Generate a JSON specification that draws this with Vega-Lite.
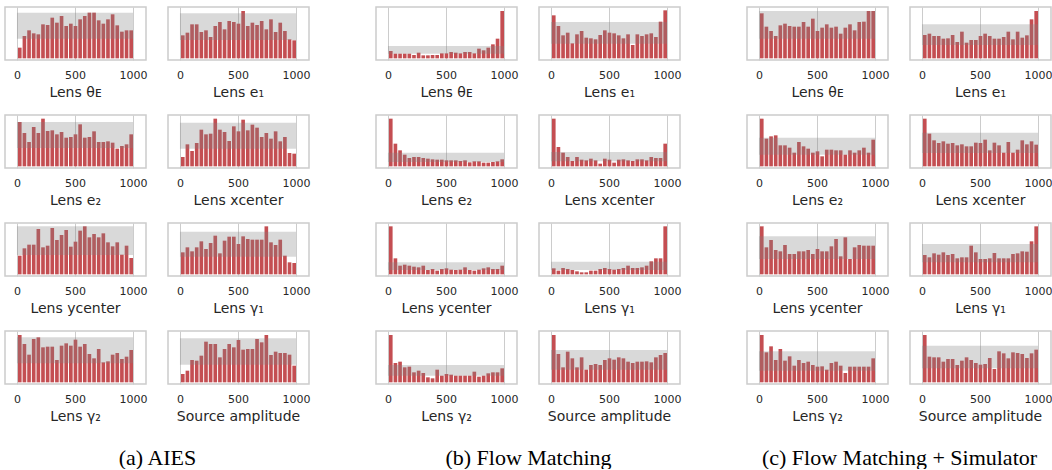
{
"$schema":"https://vega.github.io/schema/vega-lite/v6.json",
"padding":{"left":4,"top":6,"right":0,"bottom":0},
"background":"white",
"config":{"font":"DejaVu Sans","view":{"stroke":"#cccccc","strokeWidth":1.5},"concat":{"spacing":64}},
"datasets":{"bars":[
{"m":"a","p":1,"r":0,"c":32},{"m":"a","p":1,"r":40,"c":67},{"m":"a","p":1,"r":80,"c":84},{"m":"a","p":1,"r":120,"c":75},{"m":"a","p":1,"r":160,"c":72},{"m":"a","p":1,"r":200,"c":102},{"m":"a","p":1,"r":240,"c":100},{"m":"a","p":1,"r":280,"c":122},{"m":"a","p":1,"r":320,"c":107},{"m":"a","p":1,"r":360,"c":127},{"m":"a","p":1,"r":400,"c":97},{"m":"a","p":1,"r":440,"c":104},{"m":"a","p":1,"r":480,"c":97},{"m":"a","p":1,"r":520,"c":117},{"m":"a","p":1,"r":560,"c":127},{"m":"a","p":1,"r":600,"c":137},{"m":"a","p":1,"r":640,"c":137},{"m":"a","p":1,"r":680,"c":114},{"m":"a","p":1,"r":720,"c":104},{"m":"a","p":1,"r":760,"c":117},{"m":"a","p":1,"r":800,"c":132},{"m":"a","p":1,"r":840,"c":99},{"m":"a","p":1,"r":880,"c":80},{"m":"a","p":1,"r":920,"c":84},{"m":"a","p":1,"r":960,"c":84},
{"m":"a","p":2,"r":0,"c":69},{"m":"a","p":2,"r":40,"c":77},{"m":"a","p":2,"r":80,"c":102},{"m":"a","p":2,"r":120,"c":102},{"m":"a","p":2,"r":160,"c":79},{"m":"a","p":2,"r":200,"c":84},{"m":"a","p":2,"r":240,"c":64},{"m":"a","p":2,"r":280,"c":97},{"m":"a","p":2,"r":320,"c":109},{"m":"a","p":2,"r":360,"c":87},{"m":"a","p":2,"r":400,"c":112},{"m":"a","p":2,"r":440,"c":109},{"m":"a","p":2,"r":480,"c":104},{"m":"a","p":2,"r":520,"c":142},{"m":"a","p":2,"r":560,"c":97},{"m":"a","p":2,"r":600,"c":107},{"m":"a","p":2,"r":640,"c":100},{"m":"a","p":2,"r":680,"c":112},{"m":"a","p":2,"r":720,"c":87},{"m":"a","p":2,"r":760,"c":117},{"m":"a","p":2,"r":800,"c":79},{"m":"a","p":2,"r":840,"c":107},{"m":"a","p":2,"r":880,"c":82},{"m":"a","p":2,"r":920,"c":57},{"m":"a","p":2,"r":960,"c":54},
{"m":"a","p":3,"r":0,"c":133},{"m":"a","p":3,"r":40,"c":100},{"m":"a","p":3,"r":80,"c":73},{"m":"a","p":3,"r":120,"c":118},{"m":"a","p":3,"r":160,"c":100},{"m":"a","p":3,"r":200,"c":143},{"m":"a","p":3,"r":240,"c":106},{"m":"a","p":3,"r":280,"c":108},{"m":"a","p":3,"r":320,"c":96},{"m":"a","p":3,"r":360,"c":103},{"m":"a","p":3,"r":400,"c":86},{"m":"a","p":3,"r":440,"c":88},{"m":"a","p":3,"r":480,"c":96},{"m":"a","p":3,"r":520,"c":126},{"m":"a","p":3,"r":560,"c":86},{"m":"a","p":3,"r":600,"c":88},{"m":"a","p":3,"r":640,"c":105},{"m":"a","p":3,"r":680,"c":73},{"m":"a","p":3,"r":720,"c":73},{"m":"a","p":3,"r":760,"c":75},{"m":"a","p":3,"r":800,"c":71},{"m":"a","p":3,"r":840,"c":53},{"m":"a","p":3,"r":880,"c":61},{"m":"a","p":3,"r":920,"c":66},{"m":"a","p":3,"r":960,"c":96},
{"m":"a","p":4,"r":0,"c":28},{"m":"a","p":4,"r":40,"c":66},{"m":"a","p":4,"r":80,"c":46},{"m":"a","p":4,"r":120,"c":70},{"m":"a","p":4,"r":160,"c":110},{"m":"a","p":4,"r":200,"c":96},{"m":"a","p":4,"r":240,"c":98},{"m":"a","p":4,"r":280,"c":143},{"m":"a","p":4,"r":320,"c":110},{"m":"a","p":4,"r":360,"c":103},{"m":"a","p":4,"r":400,"c":76},{"m":"a","p":4,"r":440,"c":120},{"m":"a","p":4,"r":480,"c":105},{"m":"a","p":4,"r":520,"c":140},{"m":"a","p":4,"r":560,"c":108},{"m":"a","p":4,"r":600,"c":125},{"m":"a","p":4,"r":640,"c":116},{"m":"a","p":4,"r":680,"c":88},{"m":"a","p":4,"r":720,"c":100},{"m":"a","p":4,"r":760,"c":83},{"m":"a","p":4,"r":800,"c":105},{"m":"a","p":4,"r":840,"c":75},{"m":"a","p":4,"r":880,"c":88},{"m":"a","p":4,"r":920,"c":40},{"m":"a","p":4,"r":960,"c":38},
{"m":"a","p":5,"r":0,"c":56},{"m":"a","p":5,"r":40,"c":78},{"m":"a","p":5,"r":80,"c":89},{"m":"a","p":5,"r":120,"c":89},{"m":"a","p":5,"r":160,"c":136},{"m":"a","p":5,"r":200,"c":81},{"m":"a","p":5,"r":240,"c":86},{"m":"a","p":5,"r":280,"c":139},{"m":"a","p":5,"r":320,"c":103},{"m":"a","p":5,"r":360,"c":118},{"m":"a","p":5,"r":400,"c":133},{"m":"a","p":5,"r":440,"c":83},{"m":"a","p":5,"r":480,"c":98},{"m":"a","p":5,"r":520,"c":131},{"m":"a","p":5,"r":560,"c":144},{"m":"a","p":5,"r":600,"c":111},{"m":"a","p":5,"r":640,"c":121},{"m":"a","p":5,"r":680,"c":111},{"m":"a","p":5,"r":720,"c":123},{"m":"a","p":5,"r":760,"c":96},{"m":"a","p":5,"r":800,"c":84},{"m":"a","p":5,"r":840,"c":96},{"m":"a","p":5,"r":880,"c":59},{"m":"a","p":5,"r":920,"c":86},{"m":"a","p":5,"r":960,"c":49},
{"m":"a","p":6,"r":0,"c":66},{"m":"a","p":6,"r":40,"c":81},{"m":"a","p":6,"r":80,"c":69},{"m":"a","p":6,"r":120,"c":81},{"m":"a","p":6,"r":160,"c":99},{"m":"a","p":6,"r":200,"c":76},{"m":"a","p":6,"r":240,"c":94},{"m":"a","p":6,"r":280,"c":116},{"m":"a","p":6,"r":320,"c":63},{"m":"a","p":6,"r":360,"c":101},{"m":"a","p":6,"r":400,"c":113},{"m":"a","p":6,"r":440,"c":113},{"m":"a","p":6,"r":480,"c":91},{"m":"a","p":6,"r":520,"c":114},{"m":"a","p":6,"r":560,"c":106},{"m":"a","p":6,"r":600,"c":104},{"m":"a","p":6,"r":640,"c":104},{"m":"a","p":6,"r":680,"c":104},{"m":"a","p":6,"r":720,"c":144},{"m":"a","p":6,"r":760,"c":96},{"m":"a","p":6,"r":800,"c":88},{"m":"a","p":6,"r":840,"c":104},{"m":"a","p":6,"r":880,"c":56},{"m":"a","p":6,"r":920,"c":36},{"m":"a","p":6,"r":960,"c":34},
{"m":"a","p":7,"r":0,"c":142},{"m":"a","p":7,"r":40,"c":115},{"m":"a","p":7,"r":80,"c":83},{"m":"a","p":7,"r":120,"c":130},{"m":"a","p":7,"r":160,"c":135},{"m":"a","p":7,"r":200,"c":105},{"m":"a","p":7,"r":240,"c":107},{"m":"a","p":7,"r":280,"c":107},{"m":"a","p":7,"r":320,"c":67},{"m":"a","p":7,"r":360,"c":110},{"m":"a","p":7,"r":400,"c":117},{"m":"a","p":7,"r":440,"c":110},{"m":"a","p":7,"r":480,"c":128},{"m":"a","p":7,"r":520,"c":107},{"m":"a","p":7,"r":560,"c":115},{"m":"a","p":7,"r":600,"c":85},{"m":"a","p":7,"r":640,"c":72},{"m":"a","p":7,"r":680,"c":100},{"m":"a","p":7,"r":720,"c":60},{"m":"a","p":7,"r":760,"c":63},{"m":"a","p":7,"r":800,"c":83},{"m":"a","p":7,"r":840,"c":88},{"m":"a","p":7,"r":880,"c":70},{"m":"a","p":7,"r":920,"c":77},{"m":"a","p":7,"r":960,"c":97},
{"m":"a","p":8,"r":0,"c":25},{"m":"a","p":8,"r":40,"c":35},{"m":"a","p":8,"r":80,"c":67},{"m":"a","p":8,"r":120,"c":65},{"m":"a","p":8,"r":160,"c":80},{"m":"a","p":8,"r":200,"c":122},{"m":"a","p":8,"r":240,"c":115},{"m":"a","p":8,"r":280,"c":115},{"m":"a","p":8,"r":320,"c":75},{"m":"a","p":8,"r":360,"c":100},{"m":"a","p":8,"r":400,"c":115},{"m":"a","p":8,"r":440,"c":105},{"m":"a","p":8,"r":480,"c":127},{"m":"a","p":8,"r":520,"c":98},{"m":"a","p":8,"r":560,"c":100},{"m":"a","p":8,"r":600,"c":100},{"m":"a","p":8,"r":640,"c":130},{"m":"a","p":8,"r":680,"c":120},{"m":"a","p":8,"r":720,"c":142},{"m":"a","p":8,"r":760,"c":82},{"m":"a","p":8,"r":800,"c":92},{"m":"a","p":8,"r":840,"c":88},{"m":"a","p":8,"r":880,"c":88},{"m":"a","p":8,"r":920,"c":83},{"m":"a","p":8,"r":960,"c":50},
{"m":"b","p":1,"r":0,"c":22},{"m":"b","p":1,"r":40,"c":14},{"m":"b","p":1,"r":80,"c":14},{"m":"b","p":1,"r":120,"c":14},{"m":"b","p":1,"r":160,"c":14},{"m":"b","p":1,"r":200,"c":10},{"m":"b","p":1,"r":240,"c":17},{"m":"b","p":1,"r":280,"c":9},{"m":"b","p":1,"r":320,"c":9},{"m":"b","p":1,"r":360,"c":10},{"m":"b","p":1,"r":400,"c":10},{"m":"b","p":1,"r":440,"c":15},{"m":"b","p":1,"r":480,"c":15},{"m":"b","p":1,"r":520,"c":19},{"m":"b","p":1,"r":560,"c":17},{"m":"b","p":1,"r":600,"c":15},{"m":"b","p":1,"r":640,"c":19},{"m":"b","p":1,"r":680,"c":19},{"m":"b","p":1,"r":720,"c":15},{"m":"b","p":1,"r":760,"c":29},{"m":"b","p":1,"r":800,"c":24},{"m":"b","p":1,"r":840,"c":32},{"m":"b","p":1,"r":880,"c":42},{"m":"b","p":1,"r":920,"c":59},{"m":"b","p":1,"r":960,"c":142},
{"m":"b","p":2,"r":0,"c":129},{"m":"b","p":2,"r":40,"c":97},{"m":"b","p":2,"r":80,"c":69},{"m":"b","p":2,"r":120,"c":77},{"m":"b","p":2,"r":160,"c":45},{"m":"b","p":2,"r":200,"c":72},{"m":"b","p":2,"r":240,"c":82},{"m":"b","p":2,"r":280,"c":62},{"m":"b","p":2,"r":320,"c":60},{"m":"b","p":2,"r":360,"c":57},{"m":"b","p":2,"r":400,"c":70},{"m":"b","p":2,"r":440,"c":84},{"m":"b","p":2,"r":480,"c":77},{"m":"b","p":2,"r":520,"c":75},{"m":"b","p":2,"r":560,"c":69},{"m":"b","p":2,"r":600,"c":60},{"m":"b","p":2,"r":640,"c":72},{"m":"b","p":2,"r":680,"c":40},{"m":"b","p":2,"r":720,"c":72},{"m":"b","p":2,"r":760,"c":67},{"m":"b","p":2,"r":800,"c":72},{"m":"b","p":2,"r":840,"c":75},{"m":"b","p":2,"r":880,"c":64},{"m":"b","p":2,"r":920,"c":110},{"m":"b","p":2,"r":960,"c":144},
{"m":"b","p":3,"r":0,"c":143},{"m":"b","p":3,"r":40,"c":68},{"m":"b","p":3,"r":80,"c":48},{"m":"b","p":3,"r":120,"c":35},{"m":"b","p":3,"r":160,"c":25},{"m":"b","p":3,"r":200,"c":28},{"m":"b","p":3,"r":240,"c":28},{"m":"b","p":3,"r":280,"c":25},{"m":"b","p":3,"r":320,"c":23},{"m":"b","p":3,"r":360,"c":21},{"m":"b","p":3,"r":400,"c":20},{"m":"b","p":3,"r":440,"c":20},{"m":"b","p":3,"r":480,"c":18},{"m":"b","p":3,"r":520,"c":18},{"m":"b","p":3,"r":560,"c":18},{"m":"b","p":3,"r":600,"c":16},{"m":"b","p":3,"r":640,"c":18},{"m":"b","p":3,"r":680,"c":12},{"m":"b","p":3,"r":720,"c":15},{"m":"b","p":3,"r":760,"c":15},{"m":"b","p":3,"r":800,"c":11},{"m":"b","p":3,"r":840,"c":11},{"m":"b","p":3,"r":880,"c":13},{"m":"b","p":3,"r":920,"c":15},{"m":"b","p":3,"r":960,"c":21},
{"m":"b","p":4,"r":0,"c":143},{"m":"b","p":4,"r":40,"c":58},{"m":"b","p":4,"r":80,"c":41},{"m":"b","p":4,"r":120,"c":28},{"m":"b","p":4,"r":160,"c":16},{"m":"b","p":4,"r":200,"c":28},{"m":"b","p":4,"r":240,"c":20},{"m":"b","p":4,"r":280,"c":18},{"m":"b","p":4,"r":320,"c":23},{"m":"b","p":4,"r":360,"c":18},{"m":"b","p":4,"r":400,"c":8},{"m":"b","p":4,"r":440,"c":23},{"m":"b","p":4,"r":480,"c":20},{"m":"b","p":4,"r":520,"c":11},{"m":"b","p":4,"r":560,"c":20},{"m":"b","p":4,"r":600,"c":21},{"m":"b","p":4,"r":640,"c":18},{"m":"b","p":4,"r":680,"c":16},{"m":"b","p":4,"r":720,"c":21},{"m":"b","p":4,"r":760,"c":21},{"m":"b","p":4,"r":800,"c":18},{"m":"b","p":4,"r":840,"c":28},{"m":"b","p":4,"r":880,"c":25},{"m":"b","p":4,"r":920,"c":25},{"m":"b","p":4,"r":960,"c":68},
{"m":"b","p":5,"r":0,"c":144},{"m":"b","p":5,"r":40,"c":48},{"m":"b","p":5,"r":80,"c":26},{"m":"b","p":5,"r":120,"c":29},{"m":"b","p":5,"r":160,"c":26},{"m":"b","p":5,"r":200,"c":23},{"m":"b","p":5,"r":240,"c":21},{"m":"b","p":5,"r":280,"c":26},{"m":"b","p":5,"r":320,"c":13},{"m":"b","p":5,"r":360,"c":16},{"m":"b","p":5,"r":400,"c":11},{"m":"b","p":5,"r":440,"c":16},{"m":"b","p":5,"r":480,"c":18},{"m":"b","p":5,"r":520,"c":14},{"m":"b","p":5,"r":560,"c":13},{"m":"b","p":5,"r":600,"c":14},{"m":"b","p":5,"r":640,"c":21},{"m":"b","p":5,"r":680,"c":13},{"m":"b","p":5,"r":720,"c":11},{"m":"b","p":5,"r":760,"c":14},{"m":"b","p":5,"r":800,"c":18},{"m":"b","p":5,"r":840,"c":21},{"m":"b","p":5,"r":880,"c":16},{"m":"b","p":5,"r":920,"c":16},{"m":"b","p":5,"r":960,"c":26},
{"m":"b","p":6,"r":0,"c":18},{"m":"b","p":6,"r":40,"c":11},{"m":"b","p":6,"r":80,"c":19},{"m":"b","p":6,"r":120,"c":16},{"m":"b","p":6,"r":160,"c":13},{"m":"b","p":6,"r":200,"c":9},{"m":"b","p":6,"r":240,"c":6},{"m":"b","p":6,"r":280,"c":6},{"m":"b","p":6,"r":320,"c":11},{"m":"b","p":6,"r":360,"c":11},{"m":"b","p":6,"r":400,"c":16},{"m":"b","p":6,"r":440,"c":19},{"m":"b","p":6,"r":480,"c":16},{"m":"b","p":6,"r":520,"c":14},{"m":"b","p":6,"r":560,"c":16},{"m":"b","p":6,"r":600,"c":19},{"m":"b","p":6,"r":640,"c":26},{"m":"b","p":6,"r":680,"c":19},{"m":"b","p":6,"r":720,"c":19},{"m":"b","p":6,"r":760,"c":21},{"m":"b","p":6,"r":800,"c":26},{"m":"b","p":6,"r":840,"c":39},{"m":"b","p":6,"r":880,"c":48},{"m":"b","p":6,"r":920,"c":48},{"m":"b","p":6,"r":960,"c":144},
{"m":"b","p":7,"r":0,"c":142},{"m":"b","p":7,"r":40,"c":58},{"m":"b","p":7,"r":80,"c":62},{"m":"b","p":7,"r":120,"c":45},{"m":"b","p":7,"r":160,"c":47},{"m":"b","p":7,"r":200,"c":30},{"m":"b","p":7,"r":240,"c":35},{"m":"b","p":7,"r":280,"c":28},{"m":"b","p":7,"r":320,"c":15},{"m":"b","p":7,"r":360,"c":12},{"m":"b","p":7,"r":400,"c":38},{"m":"b","p":7,"r":440,"c":20},{"m":"b","p":7,"r":480,"c":25},{"m":"b","p":7,"r":520,"c":23},{"m":"b","p":7,"r":560,"c":20},{"m":"b","p":7,"r":600,"c":20},{"m":"b","p":7,"r":640,"c":20},{"m":"b","p":7,"r":680,"c":20},{"m":"b","p":7,"r":720,"c":32},{"m":"b","p":7,"r":760,"c":17},{"m":"b","p":7,"r":800,"c":20},{"m":"b","p":7,"r":840,"c":27},{"m":"b","p":7,"r":880,"c":30},{"m":"b","p":7,"r":920,"c":30},{"m":"b","p":7,"r":960,"c":42},
{"m":"b","p":8,"r":0,"c":142},{"m":"b","p":8,"r":40,"c":85},{"m":"b","p":8,"r":80,"c":45},{"m":"b","p":8,"r":120,"c":92},{"m":"b","p":8,"r":160,"c":72},{"m":"b","p":8,"r":200,"c":45},{"m":"b","p":8,"r":240,"c":75},{"m":"b","p":8,"r":280,"c":38},{"m":"b","p":8,"r":320,"c":52},{"m":"b","p":8,"r":360,"c":55},{"m":"b","p":8,"r":400,"c":52},{"m":"b","p":8,"r":440,"c":67},{"m":"b","p":8,"r":480,"c":72},{"m":"b","p":8,"r":520,"c":68},{"m":"b","p":8,"r":560,"c":75},{"m":"b","p":8,"r":600,"c":72},{"m":"b","p":8,"r":640,"c":62},{"m":"b","p":8,"r":680,"c":58},{"m":"b","p":8,"r":720,"c":62},{"m":"b","p":8,"r":760,"c":62},{"m":"b","p":8,"r":800,"c":63},{"m":"b","p":8,"r":840,"c":60},{"m":"b","p":8,"r":880,"c":75},{"m":"b","p":8,"r":920,"c":82},{"m":"b","p":8,"r":960,"c":88},
{"m":"c","p":1,"r":0,"c":135},{"m":"c","p":1,"r":40,"c":95},{"m":"c","p":1,"r":80,"c":82},{"m":"c","p":1,"r":120,"c":67},{"m":"c","p":1,"r":160,"c":99},{"m":"c","p":1,"r":200,"c":104},{"m":"c","p":1,"r":240,"c":97},{"m":"c","p":1,"r":280,"c":95},{"m":"c","p":1,"r":320,"c":95},{"m":"c","p":1,"r":360,"c":109},{"m":"c","p":1,"r":400,"c":95},{"m":"c","p":1,"r":440,"c":119},{"m":"c","p":1,"r":480,"c":82},{"m":"c","p":1,"r":520,"c":92},{"m":"c","p":1,"r":560,"c":102},{"m":"c","p":1,"r":600,"c":92},{"m":"c","p":1,"r":640,"c":95},{"m":"c","p":1,"r":680,"c":74},{"m":"c","p":1,"r":720,"c":92},{"m":"c","p":1,"r":760,"c":102},{"m":"c","p":1,"r":800,"c":84},{"m":"c","p":1,"r":840,"c":109},{"m":"c","p":1,"r":880,"c":110},{"m":"c","p":1,"r":920,"c":142},{"m":"c","p":1,"r":960,"c":142},
{"m":"c","p":2,"r":0,"c":70},{"m":"c","p":2,"r":40,"c":74},{"m":"c","p":2,"r":80,"c":67},{"m":"c","p":2,"r":120,"c":67},{"m":"c","p":2,"r":160,"c":59},{"m":"c","p":2,"r":200,"c":60},{"m":"c","p":2,"r":240,"c":70},{"m":"c","p":2,"r":280,"c":49},{"m":"c","p":2,"r":320,"c":80},{"m":"c","p":2,"r":360,"c":47},{"m":"c","p":2,"r":400,"c":55},{"m":"c","p":2,"r":440,"c":55},{"m":"c","p":2,"r":480,"c":67},{"m":"c","p":2,"r":520,"c":74},{"m":"c","p":2,"r":560,"c":67},{"m":"c","p":2,"r":600,"c":59},{"m":"c","p":2,"r":640,"c":59},{"m":"c","p":2,"r":680,"c":64},{"m":"c","p":2,"r":720,"c":80},{"m":"c","p":2,"r":760,"c":57},{"m":"c","p":2,"r":800,"c":80},{"m":"c","p":2,"r":840,"c":62},{"m":"c","p":2,"r":880,"c":69},{"m":"c","p":2,"r":920,"c":117},{"m":"c","p":2,"r":960,"c":142},
{"m":"c","p":3,"r":0,"c":143},{"m":"c","p":3,"r":40,"c":83},{"m":"c","p":3,"r":80,"c":90},{"m":"c","p":3,"r":120,"c":93},{"m":"c","p":3,"r":160,"c":63},{"m":"c","p":3,"r":200,"c":63},{"m":"c","p":3,"r":240,"c":56},{"m":"c","p":3,"r":280,"c":41},{"m":"c","p":3,"r":320,"c":73},{"m":"c","p":3,"r":360,"c":60},{"m":"c","p":3,"r":400,"c":53},{"m":"c","p":3,"r":440,"c":41},{"m":"c","p":3,"r":480,"c":45},{"m":"c","p":3,"r":520,"c":30},{"m":"c","p":3,"r":560,"c":50},{"m":"c","p":3,"r":600,"c":50},{"m":"c","p":3,"r":640,"c":48},{"m":"c","p":3,"r":680,"c":48},{"m":"c","p":3,"r":720,"c":35},{"m":"c","p":3,"r":760,"c":48},{"m":"c","p":3,"r":800,"c":41},{"m":"c","p":3,"r":840,"c":48},{"m":"c","p":3,"r":880,"c":56},{"m":"c","p":3,"r":920,"c":41},{"m":"c","p":3,"r":960,"c":80},
{"m":"c","p":4,"r":0,"c":143},{"m":"c","p":4,"r":40,"c":98},{"m":"c","p":4,"r":80,"c":78},{"m":"c","p":4,"r":120,"c":70},{"m":"c","p":4,"r":160,"c":75},{"m":"c","p":4,"r":200,"c":68},{"m":"c","p":4,"r":240,"c":70},{"m":"c","p":4,"r":280,"c":63},{"m":"c","p":4,"r":320,"c":66},{"m":"c","p":4,"r":360,"c":60},{"m":"c","p":4,"r":400,"c":60},{"m":"c","p":4,"r":440,"c":71},{"m":"c","p":4,"r":480,"c":70},{"m":"c","p":4,"r":520,"c":80},{"m":"c","p":4,"r":560,"c":48},{"m":"c","p":4,"r":600,"c":71},{"m":"c","p":4,"r":640,"c":63},{"m":"c","p":4,"r":680,"c":41},{"m":"c","p":4,"r":720,"c":73},{"m":"c","p":4,"r":760,"c":41},{"m":"c","p":4,"r":800,"c":50},{"m":"c","p":4,"r":840,"c":78},{"m":"c","p":4,"r":880,"c":66},{"m":"c","p":4,"r":920,"c":75},{"m":"c","p":4,"r":960,"c":65},
{"m":"c","p":5,"r":0,"c":144},{"m":"c","p":5,"r":40,"c":81},{"m":"c","p":5,"r":80,"c":103},{"m":"c","p":5,"r":120,"c":73},{"m":"c","p":5,"r":160,"c":69},{"m":"c","p":5,"r":200,"c":88},{"m":"c","p":5,"r":240,"c":61},{"m":"c","p":5,"r":280,"c":61},{"m":"c","p":5,"r":320,"c":69},{"m":"c","p":5,"r":360,"c":69},{"m":"c","p":5,"r":400,"c":73},{"m":"c","p":5,"r":440,"c":61},{"m":"c","p":5,"r":480,"c":76},{"m":"c","p":5,"r":520,"c":69},{"m":"c","p":5,"r":560,"c":69},{"m":"c","p":5,"r":600,"c":84},{"m":"c","p":5,"r":640,"c":106},{"m":"c","p":5,"r":680,"c":54},{"m":"c","p":5,"r":720,"c":111},{"m":"c","p":5,"r":760,"c":46},{"m":"c","p":5,"r":800,"c":81},{"m":"c","p":5,"r":840,"c":88},{"m":"c","p":5,"r":880,"c":86},{"m":"c","p":5,"r":920,"c":86},{"m":"c","p":5,"r":960,"c":86},
{"m":"c","p":6,"r":0,"c":58},{"m":"c","p":6,"r":40,"c":51},{"m":"c","p":6,"r":80,"c":63},{"m":"c","p":6,"r":120,"c":59},{"m":"c","p":6,"r":160,"c":66},{"m":"c","p":6,"r":200,"c":58},{"m":"c","p":6,"r":240,"c":61},{"m":"c","p":6,"r":280,"c":48},{"m":"c","p":6,"r":320,"c":51},{"m":"c","p":6,"r":360,"c":51},{"m":"c","p":6,"r":400,"c":86},{"m":"c","p":6,"r":440,"c":66},{"m":"c","p":6,"r":480,"c":46},{"m":"c","p":6,"r":520,"c":46},{"m":"c","p":6,"r":560,"c":48},{"m":"c","p":6,"r":600,"c":64},{"m":"c","p":6,"r":640,"c":48},{"m":"c","p":6,"r":680,"c":48},{"m":"c","p":6,"r":720,"c":48},{"m":"c","p":6,"r":760,"c":61},{"m":"c","p":6,"r":800,"c":63},{"m":"c","p":6,"r":840,"c":69},{"m":"c","p":6,"r":880,"c":68},{"m":"c","p":6,"r":920,"c":99},{"m":"c","p":6,"r":960,"c":144},
{"m":"c","p":7,"r":0,"c":142},{"m":"c","p":7,"r":40,"c":90},{"m":"c","p":7,"r":80,"c":108},{"m":"c","p":7,"r":120,"c":67},{"m":"c","p":7,"r":160,"c":100},{"m":"c","p":7,"r":200,"c":65},{"m":"c","p":7,"r":240,"c":78},{"m":"c","p":7,"r":280,"c":50},{"m":"c","p":7,"r":320,"c":67},{"m":"c","p":7,"r":360,"c":58},{"m":"c","p":7,"r":400,"c":62},{"m":"c","p":7,"r":440,"c":52},{"m":"c","p":7,"r":480,"c":47},{"m":"c","p":7,"r":520,"c":48},{"m":"c","p":7,"r":560,"c":38},{"m":"c","p":7,"r":600,"c":58},{"m":"c","p":7,"r":640,"c":62},{"m":"c","p":7,"r":680,"c":50},{"m":"c","p":7,"r":720,"c":28},{"m":"c","p":7,"r":760,"c":47},{"m":"c","p":7,"r":800,"c":47},{"m":"c","p":7,"r":840,"c":47},{"m":"c","p":7,"r":880,"c":47},{"m":"c","p":7,"r":920,"c":47},{"m":"c","p":7,"r":960,"c":72},
{"m":"c","p":8,"r":0,"c":142},{"m":"c","p":8,"r":40,"c":77},{"m":"c","p":8,"r":80,"c":75},{"m":"c","p":8,"r":120,"c":75},{"m":"c","p":8,"r":160,"c":62},{"m":"c","p":8,"r":200,"c":70},{"m":"c","p":8,"r":240,"c":70},{"m":"c","p":8,"r":280,"c":52},{"m":"c","p":8,"r":320,"c":65},{"m":"c","p":8,"r":360,"c":75},{"m":"c","p":8,"r":400,"c":67},{"m":"c","p":8,"r":440,"c":58},{"m":"c","p":8,"r":480,"c":53},{"m":"c","p":8,"r":520,"c":55},{"m":"c","p":8,"r":560,"c":73},{"m":"c","p":8,"r":600,"c":40},{"m":"c","p":8,"r":640,"c":93},{"m":"c","p":8,"r":680,"c":87},{"m":"c","p":8,"r":720,"c":72},{"m":"c","p":8,"r":760,"c":90},{"m":"c","p":8,"r":800,"c":88},{"m":"c","p":8,"r":840,"c":85},{"m":"c","p":8,"r":880,"c":73},{"m":"c","p":8,"r":920,"c":87},{"m":"c","p":8,"r":960,"c":98},
{"m":"a","p":1,"lo":59,"hi":137},{"m":"a","p":2,"lo":55,"hi":135},{"m":"a","p":3,"lo":55,"hi":133},{"m":"a","p":4,"lo":53,"hi":131},{"m":"a","p":5,"lo":58,"hi":144},{"m":"a","p":6,"lo":53,"hi":128},{"m":"a","p":7,"lo":57,"hi":135},{"m":"a","p":8,"lo":53,"hi":132},
{"m":"b","p":1,"lo":14,"hi":37},{"m":"b","p":2,"lo":44,"hi":109},{"m":"b","p":3,"lo":13,"hi":41},{"m":"b","p":4,"lo":15,"hi":43},{"m":"b","p":5,"lo":13,"hi":36},{"m":"b","p":6,"lo":13,"hi":38},{"m":"b","p":7,"lo":20,"hi":52},{"m":"b","p":8,"lo":38,"hi":97},
{"m":"c","p":1,"lo":59,"hi":142},{"m":"c","p":2,"lo":40,"hi":102},{"m":"c","p":3,"lo":35,"hi":86},{"m":"c","p":4,"lo":40,"hi":101},{"m":"c","p":5,"lo":46,"hi":114},{"m":"c","p":6,"lo":36,"hi":91},{"m":"c","p":7,"lo":35,"hi":93},{"m":"c","p":8,"lo":42,"hi":110}
]},
"data":{"name":"bars"},
"hconcat":[
{"transform":[{"filter":"datum.m == 'a'"}],
 "title":{"text":"(a) AIES","orient":"bottom","anchor":"middle","font":"Liberation Serif","fontSize":22,"fontWeight":"normal","color":"#000000","offset":23},
 "facet":{"field":"p","type":"ordinal","header":{"title":null,"labelOrient":"bottom","labelPadding":6,"labelFontSize":14,"labelColor":"#262626","labelFont":"DejaVu Sans","labelExpr":"['Lens θᴇ','Lens e₁','Lens e₂','Lens xcenter','Lens ycenter','Lens γ₁','Lens γ₂','Source amplitude'][datum.value-1]"}},
 "columns":2,"spacing":{"row":13,"column":19},
 "resolve":{"axis":{"x":"independent"}},
 "spec":{"width":141,"height":53,"layer":[
  {"transform":[{"filter":"isValid(datum.c)"}],"mark":{"type":"bar","color":"#c44e52"},
   "encoding":{"x":{"field":"r","type":"quantitative","bin":{"binned":true,"step":40},"scale":{"domain":[-103,1112],"nice":false,"zero":false},"axis":{"values":[0,500,1000],"format":"d","grid":true,"gridColor":"#cccccc","ticks":false,"domain":false,"labelPadding":9,"labelFontSize":11,"labelFont":"DejaVu Sans","labelColor":"#262626","title":null,"labelFlush":false}},
   "y":{"field":"c","type":"quantitative","scale":{"domain":[-5,154],"nice":false,"zero":false},"axis":null},"y2":{"datum":0}}},
  {"transform":[{"filter":"isValid(datum.lo)"}],"mark":{"type":"rect","color":"#808080","opacity":0.3},
   "encoding":{"x":{"datum":0,"type":"quantitative"},"x2":{"datum":1000},"y":{"field":"lo","type":"quantitative","axis":null},"y2":{"field":"hi"}}}
 ]}},
{"transform":[{"filter":"datum.m == 'b'"}],
 "title":{"text":"(b) Flow Matching","orient":"bottom","anchor":"middle","font":"Liberation Serif","fontSize":22,"fontWeight":"normal","color":"#000000","offset":23},
 "facet":{"field":"p","type":"ordinal","header":{"title":null,"labelOrient":"bottom","labelPadding":6,"labelFontSize":14,"labelColor":"#262626","labelFont":"DejaVu Sans","labelExpr":"['Lens θᴇ','Lens e₁','Lens e₂','Lens xcenter','Lens ycenter','Lens γ₁','Lens γ₂','Source amplitude'][datum.value-1]"}},
 "columns":2,"spacing":{"row":13,"column":19},
 "resolve":{"axis":{"x":"independent"}},
 "spec":{"width":141,"height":53,"layer":[
  {"transform":[{"filter":"isValid(datum.c)"}],"mark":{"type":"bar","color":"#c44e52"},
   "encoding":{"x":{"field":"r","type":"quantitative","bin":{"binned":true,"step":40},"scale":{"domain":[-103,1112],"nice":false,"zero":false},"axis":{"values":[0,500,1000],"format":"d","grid":true,"gridColor":"#cccccc","ticks":false,"domain":false,"labelPadding":9,"labelFontSize":11,"labelFont":"DejaVu Sans","labelColor":"#262626","title":null,"labelFlush":false}},
   "y":{"field":"c","type":"quantitative","scale":{"domain":[-5,154],"nice":false,"zero":false},"axis":null},"y2":{"datum":0}}},
  {"transform":[{"filter":"isValid(datum.lo)"}],"mark":{"type":"rect","color":"#808080","opacity":0.3},
   "encoding":{"x":{"datum":0,"type":"quantitative"},"x2":{"datum":1000},"y":{"field":"lo","type":"quantitative","axis":null},"y2":{"field":"hi"}}}
 ]}},
{"transform":[{"filter":"datum.m == 'c'"}],
 "title":{"text":"(c) Flow Matching + Simulator","orient":"bottom","anchor":"middle","font":"Liberation Serif","fontSize":22,"fontWeight":"normal","color":"#000000","offset":23},
 "facet":{"field":"p","type":"ordinal","header":{"title":null,"labelOrient":"bottom","labelPadding":6,"labelFontSize":14,"labelColor":"#262626","labelFont":"DejaVu Sans","labelExpr":"['Lens θᴇ','Lens e₁','Lens e₂','Lens xcenter','Lens ycenter','Lens γ₁','Lens γ₂','Source amplitude'][datum.value-1]"}},
 "columns":2,"spacing":{"row":13,"column":19},
 "resolve":{"axis":{"x":"independent"}},
 "spec":{"width":141,"height":53,"layer":[
  {"transform":[{"filter":"isValid(datum.c)"}],"mark":{"type":"bar","color":"#c44e52"},
   "encoding":{"x":{"field":"r","type":"quantitative","bin":{"binned":true,"step":40},"scale":{"domain":[-103,1112],"nice":false,"zero":false},"axis":{"values":[0,500,1000],"format":"d","grid":true,"gridColor":"#cccccc","ticks":false,"domain":false,"labelPadding":9,"labelFontSize":11,"labelFont":"DejaVu Sans","labelColor":"#262626","title":null,"labelFlush":false}},
   "y":{"field":"c","type":"quantitative","scale":{"domain":[-5,154],"nice":false,"zero":false},"axis":null},"y2":{"datum":0}}},
  {"transform":[{"filter":"isValid(datum.lo)"}],"mark":{"type":"rect","color":"#808080","opacity":0.3},
   "encoding":{"x":{"datum":0,"type":"quantitative"},"x2":{"datum":1000},"y":{"field":"lo","type":"quantitative","axis":null},"y2":{"field":"hi"}}}
 ]}}
]
}
